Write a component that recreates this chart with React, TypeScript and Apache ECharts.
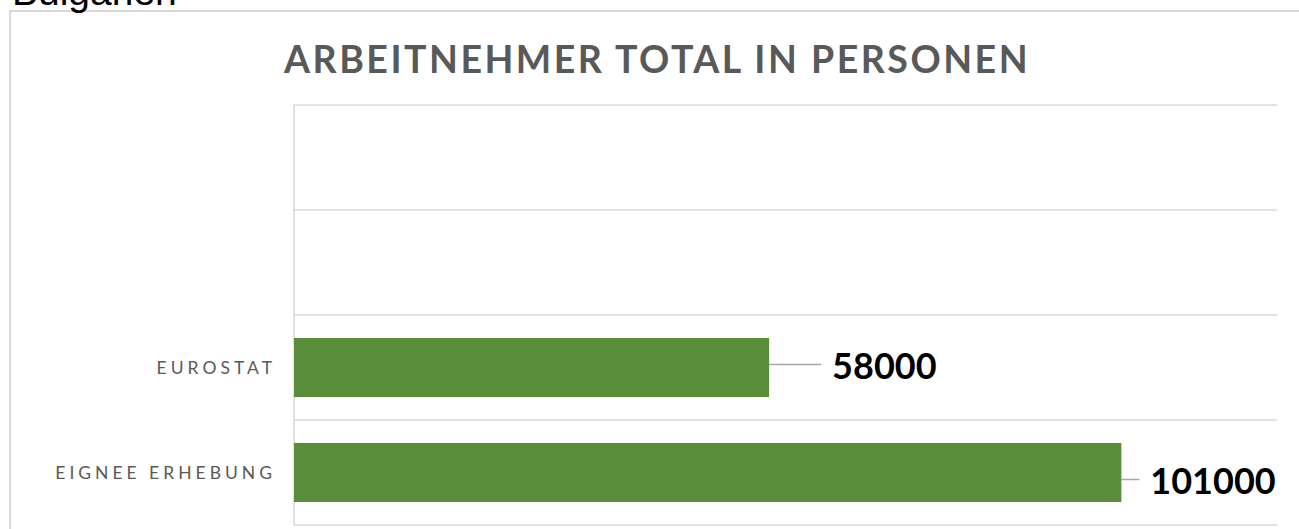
import React, { useEffect, useRef } from "react";
import * as echarts from "echarts";

const pageLabel = "Bulgarien";
const chartTitle = "ARBEITNEHMER TOTAL IN PERSONEN";
const categories = ["EIGNEE ERHEBUNG", "EUROSTAT"];
const values = [101000, 58000];
const axisMax = 120000;
const slotCount = 4;

export default function App() {
  const ref = useRef<HTMLDivElement>(null);
  useEffect(() => {
    const el = ref.current!;
    const chart = echarts.init(el, null, { renderer: "svg" });
    chart.setOption({
      animation: false,
      backgroundColor: "#ffffff",
      graphic: [
        {
          type: "rect",
          shape: { x: 10, y: 11, width: 1400, height: 700 },
          style: { fill: "none", stroke: "#d9d9d9", lineWidth: 2 },
          silent: true,
        },
        {
          type: "text",
          x: 12,
          y: -9,
          style: {
            text: pageLabel,
            font: "39px 'Liberation Sans', Arial, sans-serif",
            fill: "#000000",
            textAlign: "left",
            textVerticalAlign: "middle",
          },
        },
        {
          type: "text",
          x: 657,
          y: 58,
          style: {
            text: chartTitle,
            font: "bold 37.5px Lato, sans-serif",
            fill: "#595959",
            textAlign: "center",
            textVerticalAlign: "middle",
          },
        },
      ],
      grid: { left: 294, right: 22, top: 105, bottom: 4, containLabel: false },
      xAxis: {
        type: "value",
        min: 0,
        max: axisMax,
        axisLine: { show: false },
        axisTick: { show: false },
        axisLabel: { show: false },
        splitLine: { show: false },
      },
      yAxis: {
        type: "category",
        data: categories,
        max: slotCount - 1,
        axisLine: { show: true, lineStyle: { color: "#d9d9d9", width: 1.5 } },
        axisTick: { show: false },
        splitLine: { show: true, lineStyle: { color: "#d9d9d9", width: 1.5 } },
        axisLabel: {
          color: "#595959",
          fontFamily: "Lato, sans-serif",
          fontSize: 17.5,
          margin: 18,
          formatter: (v: any) => (categories.includes(v) ? v : ""),
        },
      },
      series: [
        {
          type: "bar",
          data: values,
          barWidth: "56%",
          itemStyle: { color: "#5a8d3a" },
          label: {
            show: true,
            position: "right",
            color: "#000000",
            fontFamily: "Lato, sans-serif",
            fontWeight: "bold",
            fontSize: 36,
            padding: [0, 0, 0, 11],
            backgroundColor: "rgba(255,255,255,0)",
          },
          labelLine: {
            show: true,
            lineStyle: { color: "#a6a6a6", width: 1.5 },
          },
          labelLayout: (p: any) =>
            p.dataIndex === 1 ? { dx: 47, dy: -3 } : { dx: 13, dy: 7 },
        },
      ],
    });
    const applySpacing = () => {
      el.querySelectorAll("text").forEach((t) => {
        const s = t.textContent || "";
        if (s === chartTitle) (t as any).style.letterSpacing = "2.5px";
        else if (categories.includes(s)) (t as any).style.letterSpacing = "4px";
      });
    };
    applySpacing();
    chart.on("finished", applySpacing);
    return () => chart.dispose();
  }, []);
  return (
    <div
      ref={ref}
      style={{ position: "absolute", left: 0, top: 0, width: 1299, height: 529 }}
    />
  );
}
